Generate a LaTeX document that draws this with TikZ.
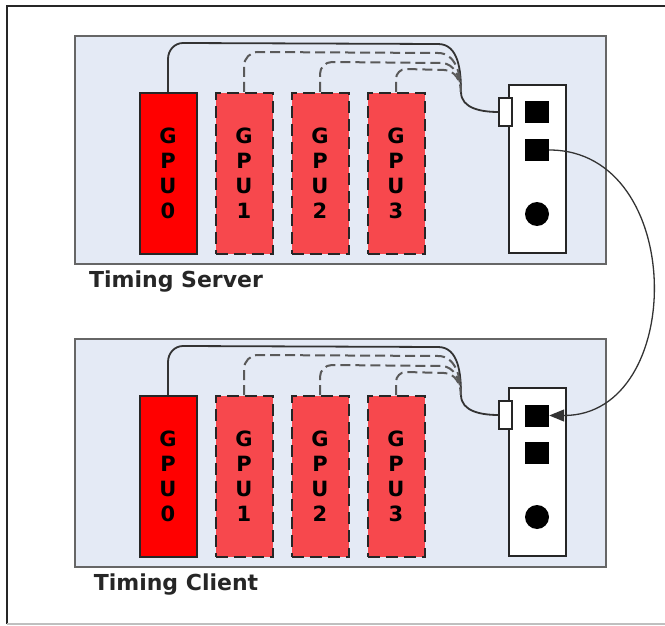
\documentclass[tikz,border=0pt]{standalone}
\usepackage{fontspec}
\setmainfont{DejaVu Sans}
\usetikzlibrary{arrows.meta}

\definecolor{boxfill}{HTML}{E4EAF5}
\definecolor{gpured}{HTML}{FF0000}
\definecolor{gpupale}{HTML}{F7484D}

\begin{document}
\begin{tikzpicture}[x=1pt, y=1pt,
  host/.style={draw=black!60, fill=boxfill, line width=2pt, minimum width=531pt, minimum height=228pt, inner sep=0pt},
  gpu/.style={draw=black!85, fill=gpured, line width=2pt, minimum width=57pt, minimum height=161pt, inner sep=0pt, align=center, font=\bfseries\fontsize{21}{25}\selectfont},
  gpuidle/.style={gpu, fill=gpupale, dash pattern=on 12pt off 6pt},
  card/.style={draw=black!85, fill=white, line width=2pt, minimum width=57pt, minimum height=168pt, inner sep=0pt},
  plug/.style={draw=black!85, fill=white, line width=1.2pt, minimum width=13pt, minimum height=28pt, inner sep=0pt},
  port/.style={fill=black, minimum width=24pt, minimum height=22pt, inner sep=0pt},
  led/.style={circle, fill=black, minimum size=24pt, inner sep=0pt},
  hostlabel/.style={anchor=base, font=\bfseries\fontsize{22}{26}\selectfont, text=black!85},
  cable/.style={draw=black!80, line width=1.8pt},
  spare/.style={draw=black!65, line width=2pt, dash pattern=on 10pt off 5pt},
  link/.style={draw=black!80, line width=1.3pt, -{Triangle[length=15pt, width=12pt]}}]

  \useasboundingbox (0,0) rectangle (665,-626);
  \draw[black!85, line width=2pt] (7,-624) -- (7,-6) -- (665,-6);
  \draw[black!25, line width=2pt] (7,-624) -- (665,-624);

  % timing server
  \node[host] (sbox) at (340.5,-150) {};
  \node[gpu] (s0) at (168,-173.5) {G\\P\\U\\0};
  \node[gpuidle] (s1) at (244,-173.5) {G\\P\\U\\1};
  \node[gpuidle] (s2) at (320,-173.5) {G\\P\\U\\2};
  \node[gpuidle] (s3) at (396,-173.5) {G\\P\\U\\3};
  \node[card] (scard) at (537.5,-169) {};
  \node[plug] (splug) at (505.5,-112) {};
  \node[port] (sa) at (537,-112.5) {};
  \node[port] (sb) at (537,-150) {};
  \node[led] (sled) at (537,-214) {};
  \node[hostlabel] (slabel) at (176,-287) {Timing Server};
  \coordinate (smerge) at (461,-92);

  \draw[cable] (s0.north) -- ++(0,33) to[out=90,in=180] ++(15,16) -- (438,-44) to[out=0,in=90] (smerge) to[out=-90,in=180] (splug.west);
  \draw[spare] (s1.north) -- ++(0,26) to[out=90,in=180] ++(14,14) -- (438,-53) to[out=0,in=90] (smerge);
  \draw[spare] (s2.north) -- ++(0,18) to[out=90,in=180] ++(12,12) -- (441,-63) to[out=0,in=90] (smerge);
  \draw[spare] (s3.north) -- ++(0,13) to[out=90,in=180] ++(10,10) -- (444,-70) to[out=0,in=90] (smerge);

  % timing client
  \node[host] (cbox) at (340.5,-453) {};
  \node[gpu] (c0) at (168,-476.5) {G\\P\\U\\0};
  \node[gpuidle] (c1) at (244,-476.5) {G\\P\\U\\1};
  \node[gpuidle] (c2) at (320,-476.5) {G\\P\\U\\2};
  \node[gpuidle] (c3) at (396,-476.5) {G\\P\\U\\3};
  \node[card] (ccard) at (537.5,-472) {};
  \node[plug] (cplug) at (505.5,-415) {};
  \node[port] (ca) at (537,-415.5) {};
  \node[port] (cb) at (537,-453) {};
  \node[led] (cled) at (537,-517) {};
  \node[hostlabel] (clabel) at (176,-590) {Timing Client};
  \coordinate (cmerge) at (461,-395);

  \draw[cable] (c0.north) -- ++(0,33) to[out=90,in=180] ++(15,16) -- (438,-347) to[out=0,in=90] (cmerge) to[out=-90,in=180] (cplug.west);
  \draw[spare] (c1.north) -- ++(0,26) to[out=90,in=180] ++(14,14) -- (438,-356) to[out=0,in=90] (cmerge);
  \draw[spare] (c2.north) -- ++(0,18) to[out=90,in=180] ++(12,12) -- (441,-366) to[out=0,in=90] (cmerge);
  \draw[spare] (c3.north) -- ++(0,13) to[out=90,in=180] ++(10,10) -- (444,-373) to[out=0,in=90] (cmerge);

  % sync cable
  \draw[link] (sb.east) to[out=0,in=0,looseness=1.33] (ca.east);
\end{tikzpicture}
\end{document}
